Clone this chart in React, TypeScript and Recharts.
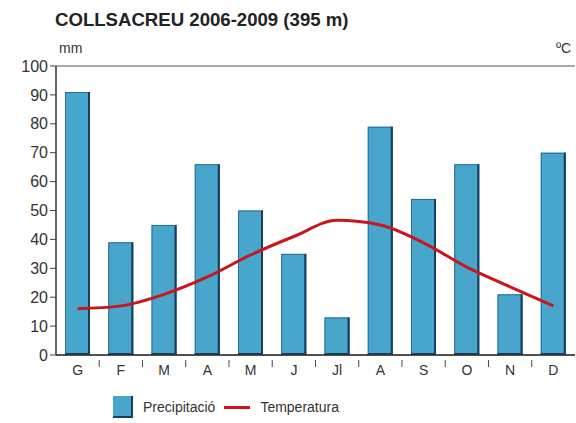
import { Bar, CartesianGrid, ComposedChart, Line, XAxis, YAxis } from "recharts";

const months = ["G", "F", "M", "A", "M", "J", "Jl", "A", "S", "O", "N", "D"];
const precipitation = [91, 39, 45, 66, 50, 35, 13, 79, 54, 66, 21, 70];
const temperature = [8, 8.5, 10.5, 13.5, 17.3, 20.5, 23.3, 22.5, 19.4, 15.2, 11.8, 8.5];
const mmTicks = [0, 10, 20, 30, 40, 50, 60, 70, 80, 90, 100];

const data = months.map((m, i) => ({
  name: m,
  precip: precipitation[i],
  temp: temperature[i]
}));

const FONT = '"Liberation Sans", Arial, sans-serif';
const HALF_BAND = 21.6;

const MonthTick = (props: any) => {
  const { x, y, payload, index } = props;
  return (
    <g>
      {index < 11 && (
        <line x1={x + HALF_BAND} x2={x + HALF_BAND} y1={y - 3} y2={y + 4} stroke="#444" strokeWidth={1} />
      )}
      <text x={x} y={y + 12} textAnchor="middle" fill="#333" fontSize={14} fontFamily={FONT}>
        {payload.value}
      </text>
    </g>
  );
};

const BarShape = (props: any) => {
  const { x, y, width, height } = props;
  if (!height) return null;
  return (
    <g>
      <rect x={x} y={y} width={width} height={height} fill="#48a5cb" />
      <rect x={x + 0.5} y={y + 0.5} width={width - 1} height={height - 1} fill="none" stroke="#2a6f92" strokeWidth={1} />
      <line x1={x + width - 1} x2={x + width - 1} y1={y} y2={y + height} stroke="#153f5a" strokeWidth={2} />
      <line x1={x} x2={x + width} y1={y + height - 1} y2={y + height - 1} stroke="#153f5a" strokeWidth={2} />
    </g>
  );
};

export default function App() {
  return (
    <div style={{ position: "absolute", left: 0, top: 0, width: 576, height: 423, background: "#fff" }}>
      <div style={{ position: "absolute", left: 55, top: 9, fontFamily: FONT, fontWeight: "bold", fontSize: 18.6, color: "#222" }}>
        COLLSACREU 2006-2009 (395 m)
      </div>
      <div style={{ position: "absolute", left: 59, top: 40, fontFamily: FONT, fontSize: 14, color: "#333" }}>mm</div>
      <div style={{ position: "absolute", left: 556, top: 40, fontFamily: FONT, fontSize: 14, color: "#333" }}>ºC</div>
      <ComposedChart
        width={576}
        height={423}
        data={data}
        margin={{ top: 66, right: 1, left: 0, bottom: 46 }}
      >
        <CartesianGrid vertical={false} stroke="#555" strokeWidth={1} />
        <XAxis
          dataKey="name"
          tick={<MonthTick />}
          tickLine={false}
          axisLine={{ stroke: "#333", strokeWidth: 1.5 }}
          interval={0}
          height={22}
        />
        <YAxis
          yAxisId="mm"
          domain={[0, 100]}
          ticks={mmTicks}
          width={56}
          tick={{ fill: "#333", fontSize: 16, fontFamily: FONT }}
          tickSize={6}
          tickLine={{ stroke: "#444" }}
          axisLine={{ stroke: "#333", strokeWidth: 1.5 }}
        />
        <YAxis yAxisId="c" orientation="right" domain={[0, 50]} width={0} tick={false} axisLine={false} />
        <Bar yAxisId="mm" dataKey="precip" barSize={25} shape={<BarShape />} isAnimationActive={false} />
        <Line
          yAxisId="c"
          type="monotone"
          dataKey="temp"
          stroke="#c8161c"
          strokeWidth={3}
          dot={false}
          isAnimationActive={false}
        />
      </ComposedChart>
      <div style={{ position: "absolute", left: 113, top: 396, display: "flex", alignItems: "center", fontFamily: FONT, fontSize: 14, color: "#333" }}>
        <span style={{ width: 20, height: 22, background: "#48a5cb", borderRight: "2px solid #153f5a", borderBottom: "2px solid #153f5a", boxSizing: "border-box", display: "inline-block" }} />
        <span style={{ marginLeft: 10 }}>Precipitació</span>
        <span style={{ marginLeft: 9, width: 26, height: 3, background: "#c8161c", display: "inline-block" }} />
        <span style={{ marginLeft: 10 }}>Temperatura</span>
      </div>
    </div>
  );
}
